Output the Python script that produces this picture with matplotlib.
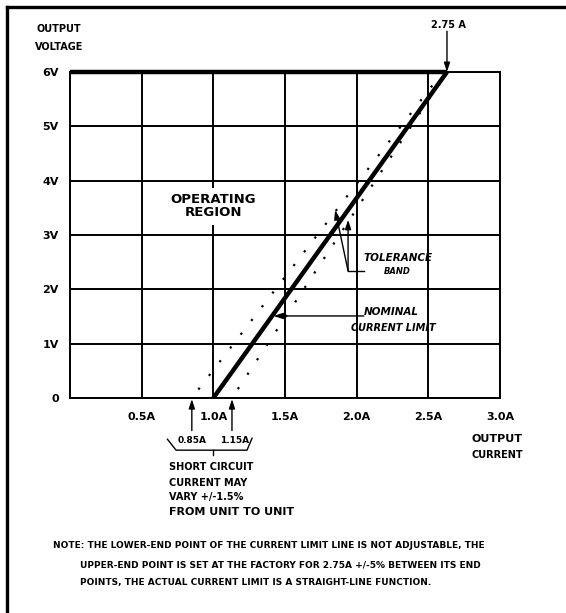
import matplotlib
matplotlib.use("Agg")
import matplotlib.pyplot as plt
from matplotlib.lines import Line2D

# --- data ---
x_ticks = [0.0, 0.5, 1.0, 1.5, 2.0, 2.5, 3.0]
x_labels = ["", "0.5A", "1.0A", "1.5A", "2.0A", "2.5A", "3.0A"]
y_ticks = [0, 1, 2, 3, 4, 5, 6]
y_labels = ["0", "1V", "2V", "3V", "4V", "5V", "6V"]

# nominal current limit line (A, V)
nominal_current = [1.0, 2.63]
nominal_voltage = [0.0, 6.0]
# tolerance band edges
tol_low_current = [0.85, 2.60]
tol_high_current = [1.13, 2.63]
tol_voltage = [0.0, 6.0]
# voltage limit (top, thick)
vlimit_current = [0.0, 2.63]
vlimit_voltage = [6.0, 6.0]

W, H = 566, 613
FONT = ["Liberation Sans Narrow", "DejaVu Sans"]
plt.rcParams["font.family"] = FONT
plt.rcParams["font.weight"] = "bold"


def fx(px):
    return px / W


def fy(py):
    return 1 - py / H


fig = plt.figure(figsize=(W / 100, H / 100), dpi=100)
fig.patch.set_facecolor("white")

# outer frame (left and top only)
fig.add_artist(Line2D([fx(6.5), fx(6.5)], [fy(6.5), 0], color="black", lw=2.4))
fig.add_artist(Line2D([fx(6.5), 1], [fy(6.5), fy(6.5)], color="black", lw=2.4))

ax = fig.add_axes([fx(70), fy(398), (500 - 70) / W, (398 - 72) / H])
ax.set_xlim(0, 3)
ax.set_ylim(0, 6)
ax.set_xticks(x_ticks)
ax.set_xticklabels(x_labels, fontsize=8)
ax.set_yticks(y_ticks)
ax.set_yticklabels(y_labels, fontsize=8)
ax.tick_params(length=0, pad=10)
ax.tick_params(axis="y", pad=8)
for s in ax.spines.values():
    s.set_linewidth(1.4)
ax.grid(True, color="black", lw=1.4)
ax.set_axisbelow(True)

# curves
ax.plot(vlimit_current, vlimit_voltage, color="black", lw=3.2, solid_capstyle="butt",
        clip_on=False, zorder=4)
ax.plot(nominal_current, nominal_voltage, color="black", lw=3.2, solid_capstyle="butt",
        zorder=4)
ax.plot(tol_low_current, tol_voltage, color="black", lw=1.6, linestyle=(3, (1, 6.8)),
        zorder=3)
ax.plot(tol_high_current, tol_voltage, color="black", lw=1.6, linestyle=(3, (1, 6.8)),
        zorder=3)

# operating region label
ax.text(1.0, 3.53, "OPERATING\nREGION", ha="center", va="center", fontsize=9.5,
        fontweight="heavy", family=["DejaVu Sans"], linespacing=1.0,
        bbox=dict(facecolor="white", edgecolor="none", pad=4), zorder=5)

arrow = dict(arrowstyle="-|>,head_length=0.55,head_width=0.18", color="black", lw=1.0,
             shrinkA=0, shrinkB=0)

# 2.75 A marker
ax.text(nominal_current[1] + 0.01, 6.87, "2.75 A", ha="center", va="center", fontsize=7)
ax.annotate("", xy=(nominal_current[1], 6.0), xytext=(nominal_current[1], 6.75),
            arrowprops=arrow, annotation_clip=False)

# tolerance band callout
ax.annotate("", xy=(1.85, 3.46), xytext=(1.94, 2.34), arrowprops=arrow)
ax.annotate("", xy=(1.94, 3.28), xytext=(1.94, 2.34), arrowprops=arrow)
ax.plot([1.94, 2.05], [2.34, 2.34], color="black", lw=1.0)
ax.text(2.05, 2.58, "TOLERANCE", ha="left", va="center", fontsize=7.5, style="italic")
ax.text(2.28, 2.32, "BAND", ha="center", va="center", fontsize=6, style="italic")

# nominal current limit callout
ax.annotate("", xy=(1.42, 1.51), xytext=(2.05, 1.51), arrowprops=arrow)
ax.text(2.05, 1.59, "NOMINAL", ha="left", va="center", fontsize=7.5, style="italic")
ax.text(1.96, 1.29, "CURRENT LIMIT", ha="left", va="center", fontsize=7, style="italic")

# short circuit arrows below the axis
for c in (tol_low_current[0], tol_high_current[0]):
    ax.annotate("", xy=(c, -0.02), xytext=(c, -0.6), arrowprops=arrow,
                annotation_clip=False)

b_left = tol_low_current[0] - 0.17
b_right = tol_high_current[0] + 0.14
ax.plot([b_left, b_left + 0.06, b_right - 0.035, b_right],
        [-0.76, -0.96, -0.96, -0.74], color="black", lw=1.0, clip_on=False)
ax.plot([1.0, 1.0], [-0.96, -1.05], color="black", lw=1.0, clip_on=False)
ax.text(tol_low_current[0], -0.79, "0.85A", ha="center", va="center", fontsize=6.5)
ax.text(tol_high_current[0] + 0.02, -0.79, "1.15A", ha="center", va="center", fontsize=6.5)

fig.text(fx(169), fy(467), "SHORT CIRCUIT", ha="left", va="center", fontsize=7)
fig.text(fx(169), fy(483), "CURRENT MAY", ha="left", va="center", fontsize=7)
fig.text(fx(169), fy(497), "VARY +/-1.5%", ha="left", va="center", fontsize=7)
fig.text(fx(169), fy(512), "FROM UNIT TO UNIT", ha="left", va="center", fontsize=8)

# axis titles
fig.text(fx(59), fy(29), "OUTPUT", ha="center", va="center", fontsize=7)
fig.text(fx(59), fy(47), "VOLTAGE", ha="center", va="center", fontsize=7)
fig.text(fx(497), fy(439), "OUTPUT", ha="center", va="center", fontsize=8)
fig.text(fx(497), fy(455), "CURRENT", ha="center", va="center", fontsize=7)

# note
fig.text(fx(53), fy(546), "NOTE: THE LOWER-END POINT OF THE CURRENT LIMIT LINE IS NOT ADJUSTABLE, THE",
         ha="left", va="center", fontsize=6.5)
fig.text(fx(80), fy(565), "UPPER-END POINT IS SET AT THE FACTORY FOR 2.75A +/-5% BETWEEN ITS END",
         ha="left", va="center", fontsize=6.5)
fig.text(fx(80), fy(583), "POINTS, THE ACTUAL CURRENT LIMIT IS A STRAIGHT-LINE FUNCTION.",
         ha="left", va="center", fontsize=6.5)

fig.savefig("out.png", dpi=100)
